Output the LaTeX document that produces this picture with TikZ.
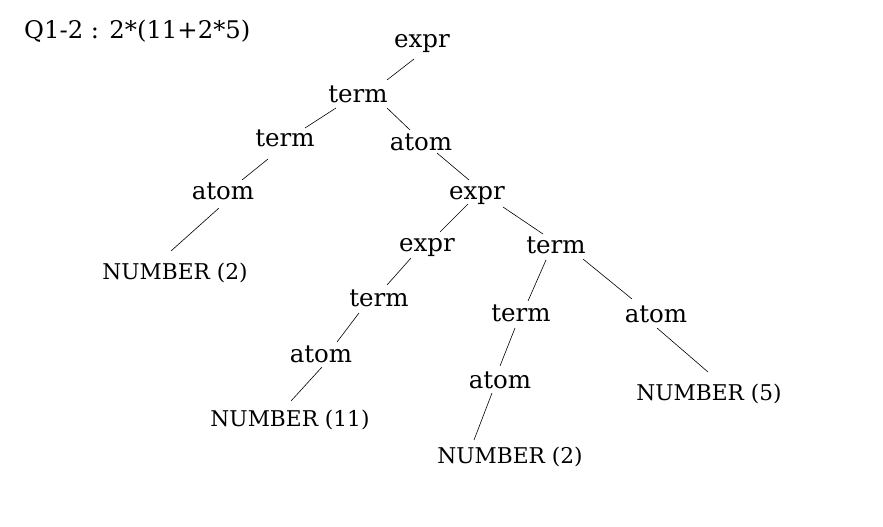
\documentclass[tikz,border=0pt]{standalone}
\usepackage{fontspec}
\setmainfont{DejaVu Serif}

\begin{document}
\begin{tikzpicture}[x=1pt,y=-1pt]
\tikzset{
sym node/.style={anchor=base,inner sep=0pt,font=\fontsize{24.5}{28}\selectfont},
leaf node/.style={anchor=base,inner sep=0pt,font=\fontsize{21.7}{25}\selectfont},
edge/.style={line width=0.6pt}
}
\useasboundingbox (0,0) rectangle (883,527);

\node(title)[anchor=base west,inner sep=0pt,font=\fontsize{24.3}{28}\selectfont] at (24,39) {Q1-2 : 2*(11+2*5)};

\node(e0)[sym node] at (422,48) {expr};
\node(t1)[sym node] at (358,102) {term};
\node(t2)[sym node] at (285,146) {term};
\node(a1)[sym node] at (421,150) {atom};
\node(a2)[sym node] at (223,199) {atom};
\node(n1)[leaf node] at (175,279) {NUMBER (2)};
\node(e1)[sym node] at (477,199) {expr};
\node(e2)[sym node] at (427,251) {expr};
\node(t3)[sym node] at (556,253) {term};
\node(t4)[sym node] at (379,306) {term};
\node(a4)[sym node] at (321,362) {atom};
\node(n2)[leaf node] at (290,426) {NUMBER (11)};
\node(t5)[sym node] at (521,321) {term};
\node(a3)[sym node] at (656,322) {atom};
\node(a5)[sym node] at (500,388) {atom};
\node(n3)[leaf node] at (510,463) {NUMBER (2)};
\node(n4)[leaf node] at (709,400) {NUMBER (5)};

% parent -> child
\draw[edge] ([shift={(-8,11)}]e0.base) -- ([shift={(29,-22)}]t1.base);
\draw[edge] ([shift={(-22,6)}]t1.base) -- ([shift={(20,-18)}]t2.base);
\draw[edge] ([shift={(29,6)}]t1.base) -- ([shift={(-11,-20)}]a1.base);
\draw[edge] ([shift={(-17,13)}]t2.base) -- ([shift={(19,-19)}]a2.base);
\draw[edge] ([shift={(-4,9)}]a2.base) -- ([shift={(-4,-28)}]n1.base);
\draw[edge] ([shift={(16,3)}]a1.base) -- ([shift={(-8,-19)}]e1.base);
\draw[edge] ([shift={(-9,5)}]e1.base) -- ([shift={(13,-19)}]e2.base);
\draw[edge] ([shift={(26,8)}]e1.base) -- ([shift={(-13,-19)}]t3.base);
\draw[edge] ([shift={(-16,7)}]e2.base) -- ([shift={(8,-21)}]t4.base);
\draw[edge] ([shift={(-10,7)}]t3.base) -- ([shift={(7,-20)}]t5.base);
\draw[edge] ([shift={(27,6)}]t3.base) -- ([shift={(-24,-23)}]a3.base);
\draw[edge] ([shift={(-20,7)}]t4.base) -- ([shift={(16,-20)}]a4.base);
\draw[edge] ([shift={(1,5)}]a4.base) -- ([shift={(1,-25)}]n2.base);
\draw[edge] ([shift={(-6,7)}]t5.base) -- ([shift={(0,-22)}]a5.base);
\draw[edge] ([shift={(1,6)}]a3.base) -- ([shift={(-1,-28)}]n4.base);
\draw[edge] ([shift={(-8,5)}]a5.base) -- ([shift={(-36,-23)}]n3.base);
\end{tikzpicture}
\end{document}
